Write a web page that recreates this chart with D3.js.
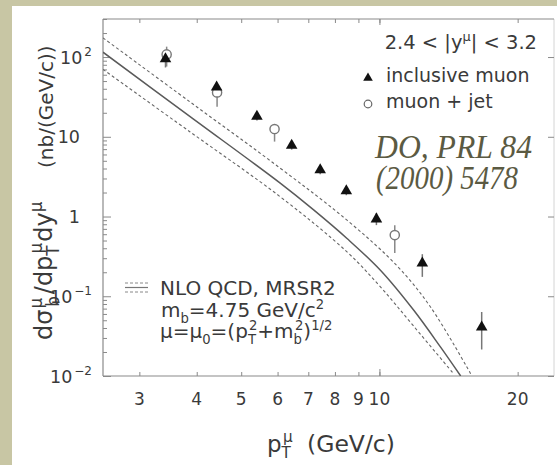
<!DOCTYPE html>
<html>
<head>
<meta charset="utf-8">
<script src="https://cdn.jsdelivr.net/npm/d3@7"></script>
<style>
  body { margin: 0; background: #c8c6a4; }
  text { font-family: "DejaVu Sans", sans-serif; fill: #3a3a3a; }
</style>
</head>
<body>
<div id="chart"></div>
<script>
// inclusive muon (triangles)
var ptInc  = [3.42, 4.42, 5.41, 6.44, 7.43, 8.47, 9.85, 12.4, 16.7];
var sigInc = [95, 42, 18, 7.8, 3.85, 2.1, 0.93, 0.26, 0.041];
var incLo  = [74, 36, 16, 6.9, 3.4, 1.85, 0.78, 0.175, 0.0215];
var incHi  = [112, 48, 20, 8.8, 4.3, 2.4, 1.1, 0.337, 0.0635];

// muon + jet (open circles)
var ptJet  = [3.44, 4.43, 5.91, 10.8];
var sigJet = [108, 36, 12.5, 0.585];
var jetLo  = [76, 23.8, 8.7, 0.35];
var jetHi  = [135, 42, 14.2, 0.78];

// NLO QCD curves
var nloX = [2.5, 3.87, 6.08, 7.19, 8.5, 10.05, 11.88, 13.59, 15.03];
var nloY = [115, 17.9, 2.62, 1.21, 0.53, 0.212, 0.0667, 0.023, 0.01];
var upX  = [2.5, 3.87, 6.08, 8.5, 10.93, 12.92, 15.8];
var upY  = [174, 27.3, 4.04, 0.9, 0.24, 0.0733, 0.0107];
var lowX = [2.5, 3.87, 6.08, 8.5, 10.05, 11.88, 14.5];
var lowY = [70, 11.5, 1.77, 0.36, 0.131, 0.042, 0.0107];

var xTicks = [3, 4, 5, 6, 7, 8, 9, 10, 20];
var xTickLabels = ["3", "4", "5", "6", "7", "8", "9", "10", "20"];
var yMajor = [0.01, 0.1, 1, 10, 100];
var yLabelBase = ["10", "10", "1", "10", "10"];
var yLabelExp  = ["\u22122", "\u22121", "", "", "2"];
var yMinor = [];
[0.01, 0.1, 1, 10, 100].forEach(function(d) {
  for (var k = 2; k <= 9; k++) if (d * k <= 300) yMinor.push(d * k);
});

var W = 557, H = 465;
var pL = 103, pR = 554, pT = 19, pB = 376;

var svg = d3.select("#chart").append("svg")
  .attr("width", W).attr("height", H);

// white panel on the beige page
svg.append("rect").attr("x", 12).attr("y", 6)
  .attr("width", W - 12).attr("height", H - 6).attr("fill", "#fff");

var x = d3.scaleLog().domain([2.5, 24]).range([pL, pR]);
var y = d3.scaleLog().domain([0.01, 300]).range([pB, pT]);

svg.append("clipPath").attr("id", "clip").append("rect")
  .attr("x", pL).attr("y", pT).attr("width", pR - pL).attr("height", pB - pT);

// frame
svg.append("line").attr("x1", pR).attr("x2", pR).attr("y1", pT).attr("y2", pB)
  .attr("stroke", "#d4d4d4");
[[pL, pT, pR, pT], [pL, pB, pR, pB], [pL, pT, pL, pB]].forEach(function(l) {
  svg.append("line").attr("x1", l[0]).attr("y1", l[1]).attr("x2", l[2]).attr("y2", l[3])
    .attr("stroke", "#8a8a8a").attr("stroke-width", 1.2);
});

function styleAxis(g) {
  g.select(".domain").remove();
  g.selectAll("line").attr("stroke", "#8a8a8a");
  g.selectAll("text").remove();
}

// x ticks bottom / top (inside)
svg.append("g").attr("transform", "translate(0," + pB + ")")
  .call(d3.axisBottom(x).tickValues(xTicks).tickSize(-4)).call(styleAxis);
svg.append("g").attr("transform", "translate(0," + pT + ")")
  .call(d3.axisTop(x).tickValues(xTicks).tickSize(-4)).call(styleAxis);
svg.append("g").attr("transform", "translate(0," + pB + ")")
  .call(d3.axisBottom(x).tickValues([10]).tickSize(-7)).call(styleAxis);
svg.append("g").attr("transform", "translate(0," + pT + ")")
  .call(d3.axisTop(x).tickValues([10]).tickSize(-6)).call(styleAxis);

// y ticks
svg.append("g").attr("transform", "translate(" + pL + ",0)")
  .call(d3.axisLeft(y).tickValues(yMajor).tickSize(-8)).call(styleAxis);
svg.append("g").attr("transform", "translate(" + pL + ",0)")
  .call(d3.axisLeft(y).tickValues(yMinor).tickSize(-4)).call(styleAxis);
svg.append("g").attr("transform", "translate(" + pR + ",0)")
  .call(d3.axisRight(y).tickValues(yMajor).tickSize(-6)).call(styleAxis);

// x tick labels
svg.selectAll(".xlab").data(xTicks).enter().append("text")
  .attr("x", function(d) { return x(d); })
  .attr("y", pB + 29)
  .attr("text-anchor", "middle")
  .attr("font-size", 17)
  .text(function(d, i) { return xTickLabels[i]; });

// y tick labels
yMajor.forEach(function(v, i) {
  var t = svg.append("text")
    .attr("x", yLabelExp[i] ? 92 : 80)
    .attr("y", y(v) + 6.5)
    .attr("text-anchor", "end")
    .attr("font-size", 17.5)
    .text(yLabelBase[i]);
  if (yLabelExp[i]) {
    t.append("tspan").attr("dy", -8).attr("dx", 2).attr("font-size", 12).text(yLabelExp[i]);
  }
});

// helper for sub / superscripts
function rich(t, parts, fs, ratio) {
  var shift = 0;
  parts.forEach(function(p) {
    var target = p[1] === "sup" ? -0.42 * fs : p[1] === "sub" ? 0.28 * fs : 0;
    var ts = t.append("tspan").attr("dy", target - shift).text(p[0]);
    if (p[1]) ts.attr("font-size", fs * (ratio || 0.66));
    if (p[2]) ts.attr("dx", p[2]);
    shift = target;
  });
}

// axis titles
var xt = svg.append("text").attr("x", 267).attr("y", 452).attr("font-size", 23);
rich(xt, [["p", ""], ["T", "sub"], ["\u03bc", "sup", -8]], 23);
svg.append("text").attr("x", 307).attr("y", 452).attr("font-size", 23.5).text("(GeV/c)");

var yt = svg.append("text")
  .attr("transform", "translate(52,340) rotate(-90)")
  .attr("font-size", 24);
rich(yt, [["d\u03c3", ""], ["\u03bc", "sup", 1], ["b", "sub", -9], ["/dp", "", 2], ["T", "sub"],
          ["\u03bc", "sup", -8], ["dy", "", 1], ["\u03bc", "sup"]], 24, 0.7);
svg.append("text")
  .attr("transform", "translate(53,168) rotate(-90)")
  .attr("font-size", 20).text("(nb/(GeV/c))");

// curves
var line = d3.line()
  .x(function(d) { return x(d[0]); })
  .y(function(d) { return y(d[1]); })
  .curve(d3.curveCatmullRom.alpha(0.5));

var curves = svg.append("g").attr("clip-path", "url(#clip)");
curves.append("path").datum(d3.zip(upX, upY)).attr("d", line)
  .attr("fill", "none").attr("stroke", "#666").attr("stroke-width", 1.1).attr("stroke-dasharray", "3,2.5");
curves.append("path").datum(d3.zip(lowX, lowY)).attr("d", line)
  .attr("fill", "none").attr("stroke", "#666").attr("stroke-width", 1.1).attr("stroke-dasharray", "3,2.5");
curves.append("path").datum(d3.zip(nloX, nloY)).attr("d", line)
  .attr("fill", "none").attr("stroke", "#5a5a5a").attr("stroke-width", 1.5);

// error bars
svg.selectAll(".errJet").data(ptJet).enter().append("line")
  .attr("x1", function(d) { return x(d); }).attr("x2", function(d) { return x(d); })
  .attr("y1", function(d, i) { return y(jetLo[i]); })
  .attr("y2", function(d, i) { return y(jetHi[i]); })
  .attr("stroke", "#888").attr("stroke-width", 1.5);
svg.selectAll(".errInc").data(ptInc).enter().append("line")
  .attr("x1", function(d) { return x(d); }).attr("x2", function(d) { return x(d); })
  .attr("y1", function(d, i) { return y(incLo[i]); })
  .attr("y2", function(d, i) { return y(incHi[i]); })
  .attr("stroke", "#777").attr("stroke-width", 1.5);

// markers
svg.selectAll(".jet").data(ptJet).enter().append("circle")
  .attr("cx", function(d) { return x(d); })
  .attr("cy", function(d, i) { return y(sigJet[i]); })
  .attr("r", 4.6)
  .attr("fill", "#fff").attr("stroke", "#777").attr("stroke-width", 1.4);

var tri = d3.symbol().type(d3.symbolTriangle).size(58);
svg.selectAll(".inc").data(ptInc).enter().append("path")
  .attr("d", tri)
  .attr("transform", function(d, i) { return "translate(" + x(d) + "," + y(sigInc[i]) + ")"; })
  .attr("fill", "#111");

// top-right legend
var rt = svg.append("text").attr("x", 537).attr("y", 49).attr("text-anchor", "end").attr("font-size", 19.5);
rich(rt, [["2.4 < |y", ""], ["\u03bc", "sup"], ["| < 3.2", ""]], 19.5);

svg.append("path").attr("d", d3.symbol().type(d3.symbolTriangle).size(40))
  .attr("transform", "translate(368,78)").attr("fill", "#111");
svg.append("text").attr("x", 386).attr("y", 82).attr("font-size", 19).text("inclusive muon");
svg.append("circle").attr("cx", 368).attr("cy", 104).attr("r", 3.8)
  .attr("fill", "#fff").attr("stroke", "#666").attr("stroke-width", 1.2);
svg.append("text").attr("x", 386).attr("y", 108).attr("font-size", 19).text("muon + jet");

// reference note
svg.append("text").attr("x", 375).attr("y", 158)
  .style("font-family", "'Liberation Serif', serif").style("font-style", "italic")
  .attr("font-size", 33).attr("textLength", 157).attr("lengthAdjust", "spacingAndGlyphs")
  .style("fill", "#5b5a42").text("DO, PRL 84");
svg.append("text").attr("x", 376).attr("y", 189)
  .style("font-family", "'Liberation Serif', serif").style("font-style", "italic")
  .attr("font-size", 33).attr("textLength", 142).attr("lengthAdjust", "spacingAndGlyphs")
  .style("fill", "#5b5a42").text("(2000) 5478");

// curve legend
svg.append("line").attr("x1", 125).attr("x2", 148).attr("y1", 283).attr("y2", 283)
  .attr("stroke", "#888").attr("stroke-width", 1).attr("stroke-dasharray", "3,2");
svg.append("line").attr("x1", 125).attr("x2", 148).attr("y1", 287.5).attr("y2", 287.5)
  .attr("stroke", "#777").attr("stroke-width", 1.2);
svg.append("line").attr("x1", 125).attr("x2", 148).attr("y1", 292).attr("y2", 292)
  .attr("stroke", "#888").attr("stroke-width", 1).attr("stroke-dasharray", "3,2");

svg.append("text").attr("x", 160).attr("y", 295).attr("font-size", 20).text("NLO QCD, MRSR2");
var l2 = svg.append("text").attr("x", 161).attr("y", 317).attr("font-size", 20);
rich(l2, [["m", ""], ["b", "sub"], ["=4.75 GeV/c", ""], ["2", "sup"]], 20);
var l3 = svg.append("text").attr("x", 160).attr("y", 338).attr("font-size", 20);
rich(l3, [["\u03bc=\u03bc", ""], ["0", "sub"], ["=(p", ""], ["T", "sub"], ["2", "sup", -7],
          ["+m", ""], ["b", "sub"], ["2", "sup", -7], [")", ""], ["1/2", "sup"]], 20);
</script>
</body>
</html>
